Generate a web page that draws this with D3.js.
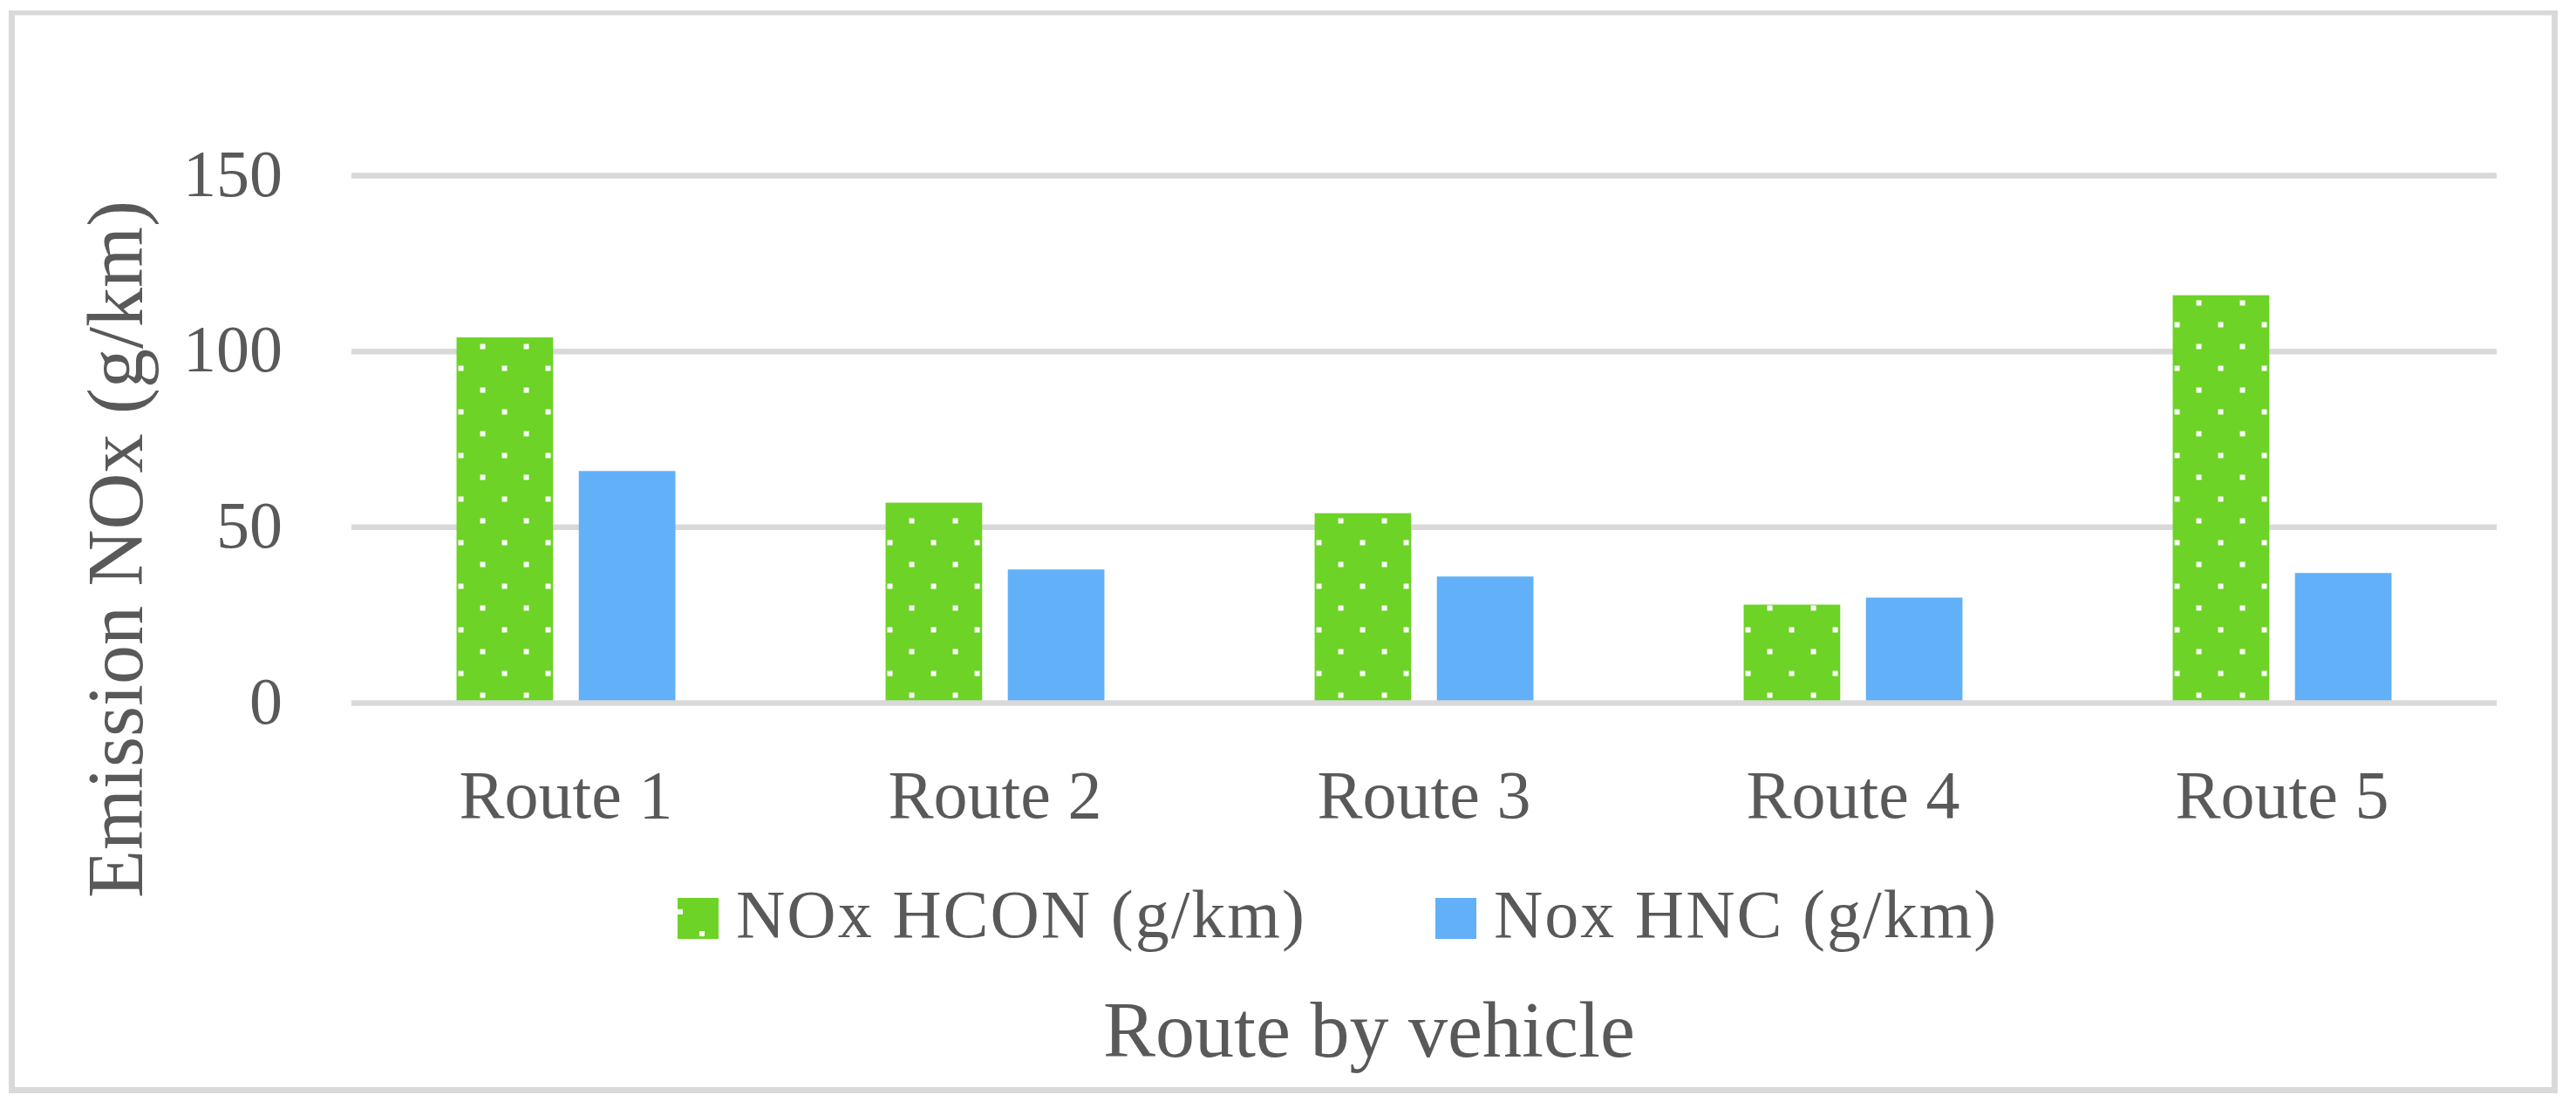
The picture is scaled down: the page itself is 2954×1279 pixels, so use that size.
<!DOCTYPE html>
<html>
<head>
<meta charset="utf-8">
<script src="https://cdn.jsdelivr.net/npm/d3@7"></script>
<style>
    html, body { margin: 0; padding: 0; background: #fff; }
    svg { display: block; }
    text { font-family: 'Liberation Serif', 'DejaVu Serif', serif; fill: #595959; }
</style>
</head>
<body>
<div id="chart"></div>
<script>
const routes = ['Route 1', 'Route 2', 'Route 3', 'Route 4', 'Route 5'];
const seriesNames = ['NOx HCON (g/km)', 'Nox HNC (g/km)'];
const hconValues = [104, 57, 54, 28, 116];
const hncValues = [66, 38, 36, 30, 37];
const yTicks = [0, 50, 100, 150];

const width = 2954, height = 1279;
const margin = { top: 201.5, right: 91, bottom: 472.5, left: 403 };
const gridColor = '#d9d9d9';
const colors = ['#6dd326', '#61b0f8'];

const svg = d3.select('#chart').append('svg')
    .attr('width', width)
    .attr('height', height);

// dotted fill for the first series
const defs = svg.append('defs');
const pat = defs.append('pattern')
    .attr('id', 'dots')
    .attr('patternUnits', 'userSpaceOnUse')
    .attr('width', 50)
    .attr('height', 50);
pat.append('rect').attr('width', 50).attr('height', 50).attr('fill', colors[0]);
pat.append('rect').attr('x', 2).attr('y', 18).attr('width', 6).attr('height', 6).attr('fill', '#fff');
pat.append('rect').attr('x', 27).attr('y', 43).attr('width', 6).attr('height', 6).attr('fill', '#fff');
const fills = ['url(#dots)', colors[1]];

// outer frame
svg.append('rect').attr('width', width).attr('height', height).attr('fill', '#fff');
svg.append('path')
    .attr('d', 'M13.5,14 V1250.5 H2929.5 V14 Z')
    .attr('fill', 'none')
    .attr('stroke', gridColor)
    .attr('stroke-width', 7);
svg.append('rect').attr('width', width).attr('height', 12).attr('fill', '#fff');

const innerW = width - margin.left - margin.right;
const innerH = height - margin.top - margin.bottom;

const x0 = d3.scaleBand()
    .domain(routes)
    .range([0, innerW])
    .paddingInner(0.49)
    .paddingOuter(0.245);
const x1 = d3.scaleBand()
    .domain(seriesNames)
    .range([0, x0.bandwidth()])
    .paddingInner(0.21);
const y = d3.scaleLinear()
    .domain([0, 150])
    .range([innerH, 0]);

const g = svg.append('g')
    .attr('transform', 'translate(' + margin.left + ',' + margin.top + ')');

// gridlines (the zero line is drawn after the bars)
g.append('g')
    .selectAll('line')
    .data(yTicks.filter(t => t > 0))
    .join('line')
        .attr('x1', 0)
        .attr('x2', innerW)
        .attr('y1', d => y(d))
        .attr('y2', d => y(d))
        .attr('stroke', gridColor)
        .attr('stroke-width', 6.5);

const rows = routes.map((r, i) => ({ route: r, values: [hconValues[i], hncValues[i]] }));

const groups = g.append('g')
    .selectAll('g')
    .data(rows)
    .join('g')
        .attr('transform', d => 'translate(' + x0(d.route) + ',0)');

groups.selectAll('rect')
    .data(d => d.values.map((v, i) => ({ key: seriesNames[i], value: v, i: i })))
    .join('rect')
        .attr('x', d => x1(d.key))
        .attr('y', d => y(d.value))
        .attr('width', x1.bandwidth())
        .attr('height', d => innerH - y(d.value))
        .attr('fill', d => fills[d.i]);

g.append('line')
    .attr('x1', 0)
    .attr('x2', innerW)
    .attr('y1', y(0))
    .attr('y2', y(0))
    .attr('stroke', gridColor)
    .attr('stroke-width', 6.5);

// y tick labels
g.append('g')
    .selectAll('text')
    .data(yTicks)
    .join('text')
        .attr('x', -79)
        .attr('y', d => y(d) + 23)
        .attr('text-anchor', 'end')
        .attr('font-size', '76px')
        .text(d => d);

// category labels
g.append('g')
    .selectAll('text')
    .data(routes)
    .join('text')
        .attr('x', d => x0(d) + x0.bandwidth() / 2)
        .attr('y', 938 - margin.top)
        .attr('text-anchor', 'middle')
        .attr('font-size', '78px')
        .text(d => d);

// axis titles
svg.append('text')
    .attr('transform', 'translate(163,630) rotate(-90)')
    .attr('text-anchor', 'middle')
    .attr('font-size', '90px')
    .text('Emission NOx (g/km)');

svg.append('text')
    .attr('x', 1570)
    .attr('y', 1212)
    .attr('text-anchor', 'middle')
    .attr('font-size', '90px')
    .text('Route by vehicle');

// legend
const legendX = [777, 1646];
const legend = svg.append('g')
    .selectAll('g')
    .data(seriesNames)
    .join('g');
legend.append('rect')
    .attr('x', (d, i) => legendX[i])
    .attr('y', 1030)
    .attr('width', 47)
    .attr('height', 47)
    .attr('fill', (d, i) => fills[i]);
legend.append('text')
    .attr('x', (d, i) => legendX[i] + 67)
    .attr('y', 1075)
    .attr('font-size', '78px')
    .attr('letter-spacing', '2px')
    .text(d => d);
</script>
</body>
</html>
